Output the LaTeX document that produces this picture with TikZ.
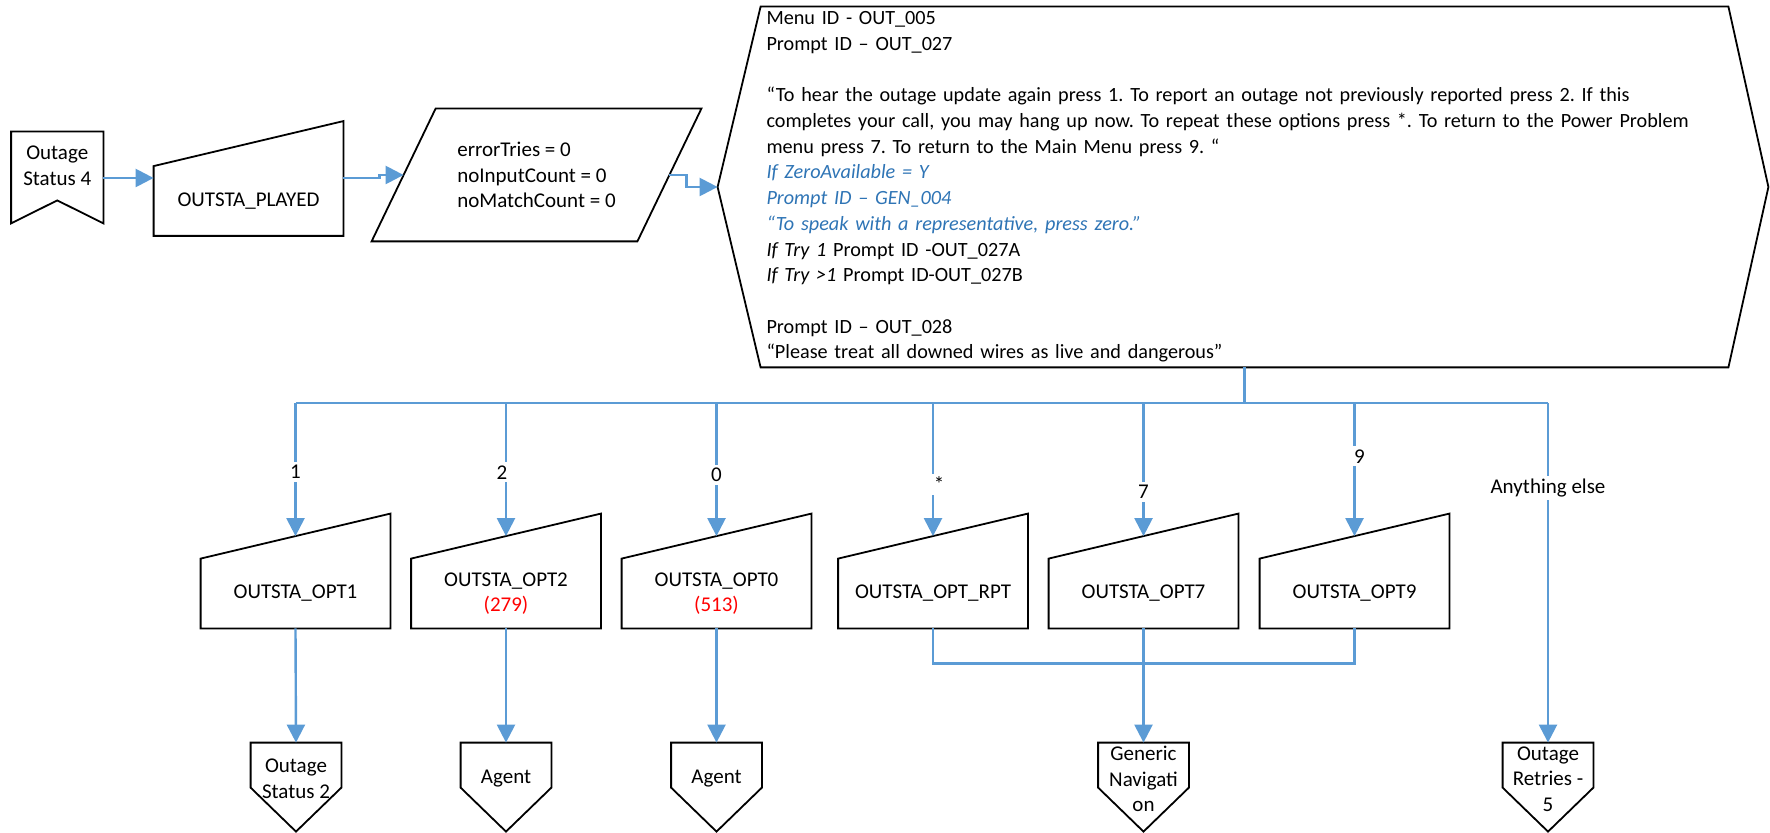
\documentclass[tikz,border=0pt]{standalone}
\usepackage{fontspec}
\setmainfont{Carlito}
\usepackage{tikz}
\usetikzlibrary{positioning,calc,arrows.meta}
\definecolor{flowblue}{HTML}{5B9BD5}
\definecolor{noteblue}{HTML}{2E74B5}
\definecolor{costred}{HTML}{FF0000}
\frenchspacing

\begin{document}
\begin{tikzpicture}[
  x=0.5pt, y=-0.5pt,
  base/.style={font=\fontsize{10.5}{12.85}\selectfont, inner sep=0pt, align=center},
  mbox/.style={base, minimum width=94.5pt, minimum height=34.5pt},
  tbox/.style={base, minimum width=45pt, minimum height=36pt},
  outl/.style={draw=black, line width=0.9pt},
  flow/.style={-{Triangle[length=9pt,width=9pt]}, flowblue, line width=1.2pt},
  fline/.style={flowblue, line width=1.2pt},
  lbl/.style={base, text=black, fill=white, inner sep=1.5pt},
]
\useasboundingbox (0,0) rectangle (1770,833);

% top row
\node[base, minimum width=45.75pt, minimum height=34pt] (os4) at (57.25,166) {Outage\\Status 4};
\node[mbox] (played) at (248.5,201) {OUTSTA\_PLAYED};
\node[base, align=left, minimum width=132.5pt, minimum height=66pt] (param) at (536.5,175)
  {errorTries = 0\\noInputCount = 0\\noMatchCount = 0};
\node[base, font=\fontsize{10.1}{12.85}\selectfont, align=left, text width=478pt, inner xsep=2.75pt, minimum width=483.5pt, minimum height=180pt] (prompt) at (1244.5,187) {%
Menu ID - OUT\_005\\
Prompt ID – OUT\_027\\[12.85pt]
“To hear the outage update again press 1. To report an outage not previously reported press 2. If this\\
completes your call, you may hang up now. To repeat these options press *. To return to the Power Problem\\
menu press 7. To return to the Main Menu press 9. “\\
\textcolor{noteblue}{\textit{If ZeroAvailable = Y}}\\
\textcolor{noteblue}{\textit{Prompt ID – GEN\_004}}\\
\textcolor{noteblue}{\textit{“To speak with a representative, press zero.”}}\\
\textit{If Try 1} Prompt ID -OUT\_027A\\
\textit{If Try >1} Prompt ID-OUT\_027B\\[12.85pt]
Prompt ID – OUT\_028\\
“Please treat all downed wires as live and dangerous”};

% menu options
\node[mbox] (o1)   at (295.5,593.5)  {OUTSTA\_OPT1};
\node[mbox] (o2)   at (506,593.5)    {OUTSTA\_OPT2\\\textcolor{costred}{(279)}};
\node[mbox] (o0)   at (716.5,593.5)  {OUTSTA\_OPT0\\\textcolor{costred}{(513)}};
\node[mbox] (orpt) at (933,593.5)    {OUTSTA\_OPT\_RPT};
\node[mbox] (o7)   at (1143.5,593.5) {OUTSTA\_OPT7};
\node[mbox] (o9)   at (1354.5,593.5) {OUTSTA\_OPT9};

% off-page targets
\node[tbox] (os2)   at (296,779)    {Outage\\Status 2};
\node[tbox] (ag1)   at (506,779)    {Agent};
\node[tbox] (ag0)   at (716.5,779)  {Agent};
\node[tbox] (gnav)  at (1143.5,779) {Generic\\Navigati\\on};
\node[tbox] (retry) at (1548,779)   {Outage\\Retries -\\5};

% outlines
\foreach \n in {played,o1,o2,o0,orpt,o7,o9}
  \draw[outl] (\n.south west) -- (\n.north west) -- ([yshift=22.5pt]\n.north east) -- (\n.south east) -- cycle;
\foreach \n in {os2,ag1,ag0,gnav,retry}
  \draw[outl] (\n.north west) -- (\n.north east) -- ([yshift=-22.5pt]\n.north east) -- ([yshift=-44.5pt]\n.north) -- ([yshift=-22.5pt]\n.north west) -- cycle;
\draw[outl] (os4.north west) -- (os4.north east) -- ([yshift=-11.5pt]os4.south east) -- (os4.south) -- ([yshift=-11.5pt]os4.south west) -- cycle;
\draw[outl] ([xshift=16pt]param.north west) -- ([xshift=16pt]param.north east) -- ([xshift=-16pt]param.south east) -- ([xshift=-16pt]param.south west) -- cycle;
\draw[outl] (prompt.north west) -- (prompt.north east) -- ([xshift=20pt]prompt.east) -- (prompt.south east) -- (prompt.south west) -- ([xshift=-21.5pt]prompt.west) -- cycle;

% connectors
\draw[flow] ([yshift=-6pt]os4.east) -- ([yshift=11.5pt]played.west);
\draw[flow] ([yshift=11.5pt]played.east) -- ++(36,0) |- (param.west);
\draw[flow] (param.east) -- ++(17,0) |- ([xshift=-21.5pt]prompt.west);

\coordinate (bus) at (1244.5,403);
\draw[fline] (prompt.south) -- (bus);
\draw[fline] (bus -| o1) -- (bus -| retry);
\draw[flow] (bus -| o1)   -- node[lbl, pos=0.52] (k1) {1} ([yshift=11.25pt]o1.north);
\draw[flow] (bus -| o2)   -- node[lbl, pos=0.52, xshift=-2pt] (k2) {2} ([yshift=11.25pt]o2.north);
\draw[flow] (bus -| o0)   -- node[lbl, pos=0.54] (k0) {0} ([yshift=11.25pt]o0.north);
\draw[flow] (bus -| orpt) -- node[lbl, pos=0.61, xshift=3pt] (kr) {*} ([yshift=11.25pt]orpt.north);
\draw[flow] (bus -| o7)   -- node[lbl, pos=0.67] (k7) {7} ([yshift=11.25pt]o7.north);
\draw[flow] (bus -| o9)   -- node[lbl, pos=0.40, xshift=2.5pt] (k9) {9} ([yshift=11.25pt]o9.north);
\draw[flow] (bus -| retry) -- node[lbl, pos=0.25] (ke) {Anything else} (retry.north);

\draw[flow] (o1.south) -- (os2.north);
\draw[flow] (o2.south) -- (ag1.north);
\draw[flow] (o0.south) -- (ag0.north);
\draw[fline] (orpt.south) -- ++(0,35) -| (o9.south);
\draw[flow] (o7.south) -- (gnav.north);
\end{tikzpicture}
\end{document}
